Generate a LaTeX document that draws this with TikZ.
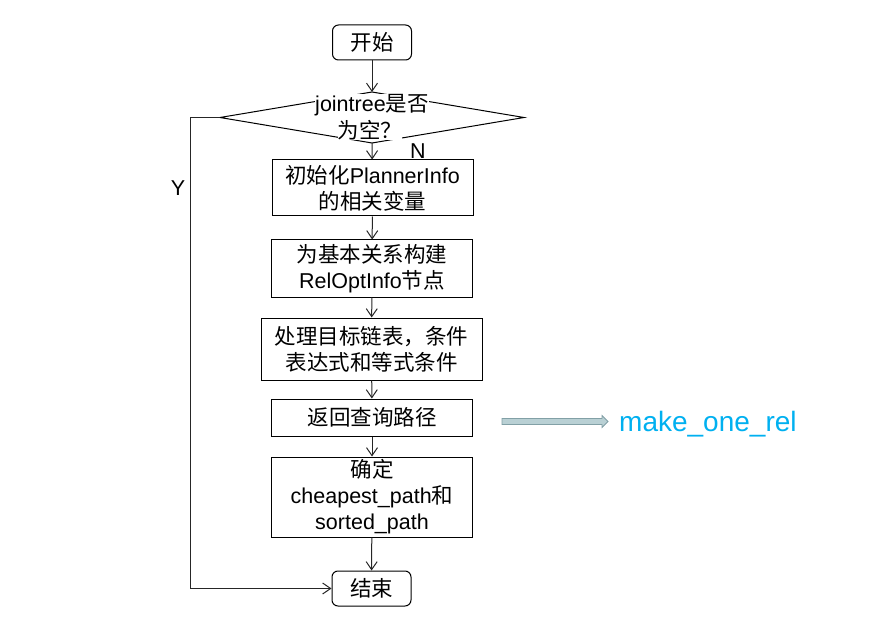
\documentclass[tikz,border=0pt]{standalone}
\usepackage{fontspec}
\setmainfont{Liberation Sans}
\newfontfamily\cjk{Noto Sans CJK SC}
\newcommand{\zh}[1]{{\cjk #1}}
\usetikzlibrary{arrows.meta}
\definecolor{linkblue}{RGB}{0,176,240}
\definecolor{arrfill}{RGB}{185,208,212}
\definecolor{arrdraw}{RGB}{130,160,166}
\begin{document}
\begin{tikzpicture}[x=1pt,y=-1pt,
  every node/.style={font=\fontsize{21.5}{26}\selectfont},
  termbox/.style={draw=black,line width=1pt,rounded corners=6pt,minimum width=79pt,minimum height=35pt,inner sep=0pt},
  procbox/.style={draw=black,line width=1pt,align=center,inner sep=0pt,minimum width=201pt},
  flow/.style={draw=black!85,line width=1pt,-{Straight Barb[length=8pt,width=11pt]}},
  lbl/.style={inner sep=0pt}
]
\useasboundingbox (0,0) rectangle (889,631);

\node[termbox] (start) at (372,42.5) {\zh{开始}};

\coordinate (dt) at (372,92);
\coordinate (db) at (372,143);
\coordinate (dl) at (220,117.5);
\coordinate (dr) at (524,117.5);
\draw[line width=1pt] (dt) -- (dr) -- (db) -- (dl) -- cycle;
\node[lbl,fill=white] (q1) at (372,105) {jointree\zh{是否}};
\node[lbl,fill=white] (q2) at (370,130.5) {\zh{为空？}};

\node[procbox,minimum height=56pt] (b1) at (372.5,188) {\zh{初始化}PlannerInfo\\\zh{的相关变量}};
\node[procbox,minimum height=57pt] (b2) at (372,268.5) {\zh{为基本关系构建}\\RelOptInfo\zh{节点}};
\node[procbox,minimum height=62pt,minimum width=221pt] (b3) at (371.5,349) {\zh{处理目标链表，条件}\\\zh{表达式和等式条件}};
\node[procbox,minimum height=37pt] (b4) at (372,417.5) {\zh{返回查询路径}};
\node[procbox,minimum height=80pt] (b5) at (372,497) {\zh{确定}\\cheapest\_path\zh{和}\\sorted\_path};
\node[termbox] (end) at (371.5,588.5) {\zh{结束}};

\draw[flow] (start) -- (dt);
\draw[flow] (db) -- (b1);
\draw[flow] (b1) -- (b2);
\draw[flow] (b2) -- (b3);
\draw[flow] (b3) -- (b4);
\draw[flow] (b4) -- (b5);
\draw[flow] (b5) -- (end);
\coordinate (yc1) at (190,117.5);
\coordinate (yc2) at (190,588.5);
\draw[flow] (dl) -- (yc1) -- (yc2) -- (end);

\node[lbl] (nlab) at (418,151) {N};
\node[lbl] (ylab) at (178,188) {Y};

\draw[arrdraw,fill=arrfill,line width=0.8pt] (502,418.5) -- (602,418.5) -- (602,415.5) -- (608,421.5) -- (602,427.5) -- (602,424.5) -- (502,424.5) -- cycle;
\node[lbl,anchor=base west,text=linkblue,font=\fontsize{28}{32}\selectfont] (mor) at (619,431.5) {make\_one\_rel};
\end{tikzpicture}
\end{document}
